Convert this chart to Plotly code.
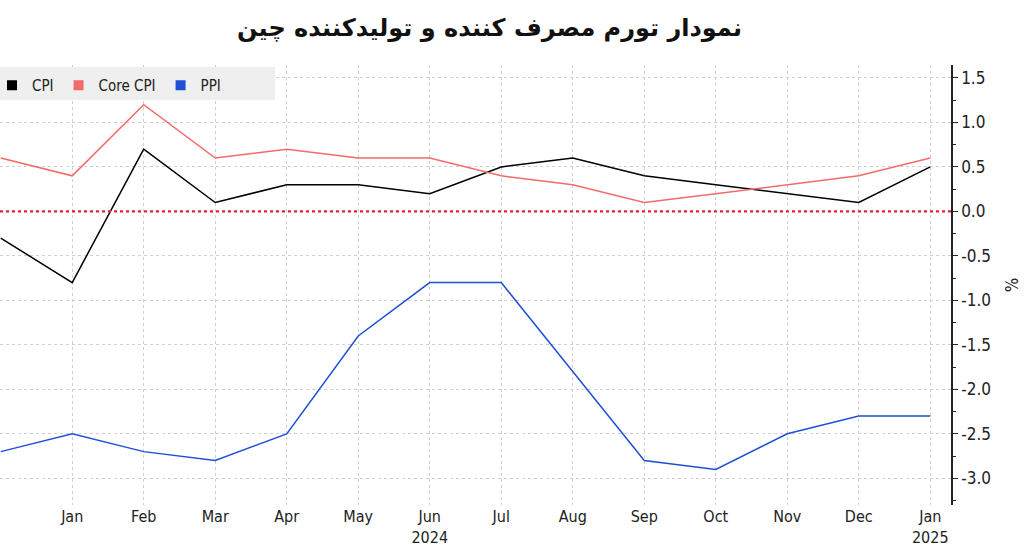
import plotly.graph_objects as go

months = ["Dec", "Jan", "Feb", "Mar", "Apr", "May", "Jun<br>2024", "Jul", "Aug",
          "Sep", "Oct", "Nov", "Dec", "Jan<br>2025"]
cpi = [-0.3, -0.8, 0.7, 0.1, 0.3, 0.3, 0.2, 0.5, 0.6, 0.4, 0.3, 0.2, 0.1, 0.5]
core_cpi = [0.6, 0.4, 1.2, 0.6, 0.7, 0.6, 0.6, 0.4, 0.3, 0.1, 0.2, 0.3, 0.4, 0.6]
ppi = [-2.7, -2.5, -2.7, -2.8, -2.5, -1.4, -0.8, -0.8, -1.8, -2.8, -2.9, -2.5, -2.3, -2.3]
y_ticks = [1.5, 1.0, 0.5, 0.0, -0.5, -1.0, -1.5, -2.0, -2.5, -3.0]

x = list(range(len(months)))
FONT = "DejaVu Sans"
COND = "DejaVu Sans Condensed"
PLOT_W = 951
PLOT_H = 440

fig = go.Figure()
series = [("CPI", cpi, "#000000"), ("Core CPI", core_cpi, "#f26a6a"), ("PPI", ppi, "#1f4fd6")]
for name, vals, col in series:
    fig.add_trace(go.Scatter(x=x, y=vals, mode="lines", name=name,
                             line=dict(color=col, width=1.5), showlegend=False))
for name, vals, col in series:
    fig.add_trace(go.Scatter(x=[None], y=[None], mode="markers", name=name,
                             marker=dict(symbol="square", size=10, color=col)))

fig.add_shape(type="line", xref="paper", yref="y", x0=0, x1=1, y0=0, y1=0,
              line=dict(color="#e0203a", width=2.2, dash="dot"), layer="above")
# legend background panel
fig.add_shape(type="rect", xref="paper", yref="paper",
              x0=0, x1=275 / PLOT_W, y0=1 - 2 / PLOT_H, y1=1 - 35 / PLOT_H,
              fillcolor="#efefef", line=dict(width=0), layer="above")

fig.update_layout(
    width=1024, height=549,
    margin=dict(l=0, r=73, t=65, b=44, autoexpand=False),
    paper_bgcolor="white", plot_bgcolor="white",
    font=dict(family=FONT, size=14, color="#222"),
    title=dict(text="<b>نمودار تورم مصرف کننده و تولیدکننده چین</b>",
               x=0.478, xanchor="center", y=0.95, yanchor="middle",
               font=dict(family=FONT, size=24, color="#111")),
    legend=dict(orientation="h", x=-8 / PLOT_W, y=1 - 4 / PLOT_H, xanchor="left", yanchor="top",
                bgcolor="rgba(0,0,0,0)", font=dict(family=COND, size=15, color="#222"),
                itemwidth=30, tracegroupgap=0),
    xaxis=dict(range=[-0.01, 13.29], tickmode="array", tickvals=x, ticktext=months,
               showgrid=True, gridcolor="#d0d0d0", griddash="dot", gridwidth=1,
               showline=False, ticks="", zeroline=False, fixedrange=True,
               tickfont=dict(family=COND, size=16, color="#222")),
    yaxis=dict(side="right", range=[-3.30, 1.646], tickmode="array", tickvals=y_ticks,
               ticktext=[f"{v:.1f}" for v in y_ticks],
               showgrid=True, gridcolor="#d0d0d0", griddash="dot", gridwidth=1,
               showline=True, linecolor="#222", linewidth=1.5,
               ticks="outside", ticklen=5, tickcolor="#222",
               minor=dict(dtick=0.25, tick0=0, ticks="outside", ticklen=3, tickcolor="#222", showgrid=False),
               zeroline=False, fixedrange=True,
               title=dict(text="%", standoff=16, font=dict(family=COND, size=17)),
               tickfont=dict(family=COND, size=17, color="#222")),
)

fig.write_html("out.html")
